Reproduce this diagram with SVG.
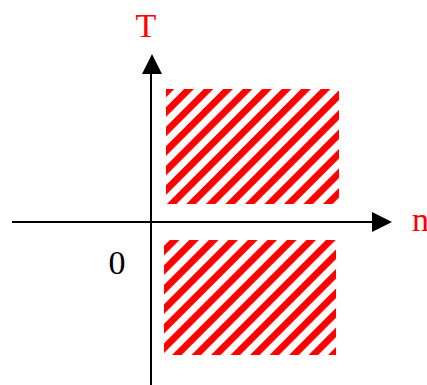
<svg xmlns="http://www.w3.org/2000/svg" width="427" height="385" viewBox="0 0 427 385">
<style>
.axis{stroke:#000;stroke-width:2;fill:none}
.head{fill:#000}
.lbl{font-family:"Liberation Serif","Times New Roman",serif;font-size:34px}
.red{fill:#ff0000}
.hatch{fill:url(#stripes)}
</style>
<defs>
<pattern id="stripes" patternUnits="userSpaceOnUse" width="13.8" height="13.8" patternTransform="rotate(45)">
<rect x="0" y="0" width="6.8" height="13.8" fill="#ff0000"/>
</pattern>
</defs>
<rect width="427" height="385" fill="#fff"/>
<g id="region-top"><rect class="hatch" x="166" y="89" width="173" height="115"/></g>
<g id="region-bottom"><rect class="hatch" x="164" y="240" width="172" height="115"/></g>
<g id="connectors">
<line class="axis" x1="151" y1="385" x2="151" y2="70"/>
<polygon class="head" points="152,54 142,74 162,74"/>
<line class="axis" x1="12" y1="222" x2="376" y2="222"/>
<polygon class="head" points="392,222 372,212 372,232"/>
</g>
<g id="label-T"><text class="lbl red" x="146" y="37" text-anchor="middle">T</text></g>
<g id="label-n"><text class="lbl red" x="412" y="231">n</text></g>
<g id="label-0"><text class="lbl" x="117" y="274" text-anchor="middle">0</text></g>
</svg>
